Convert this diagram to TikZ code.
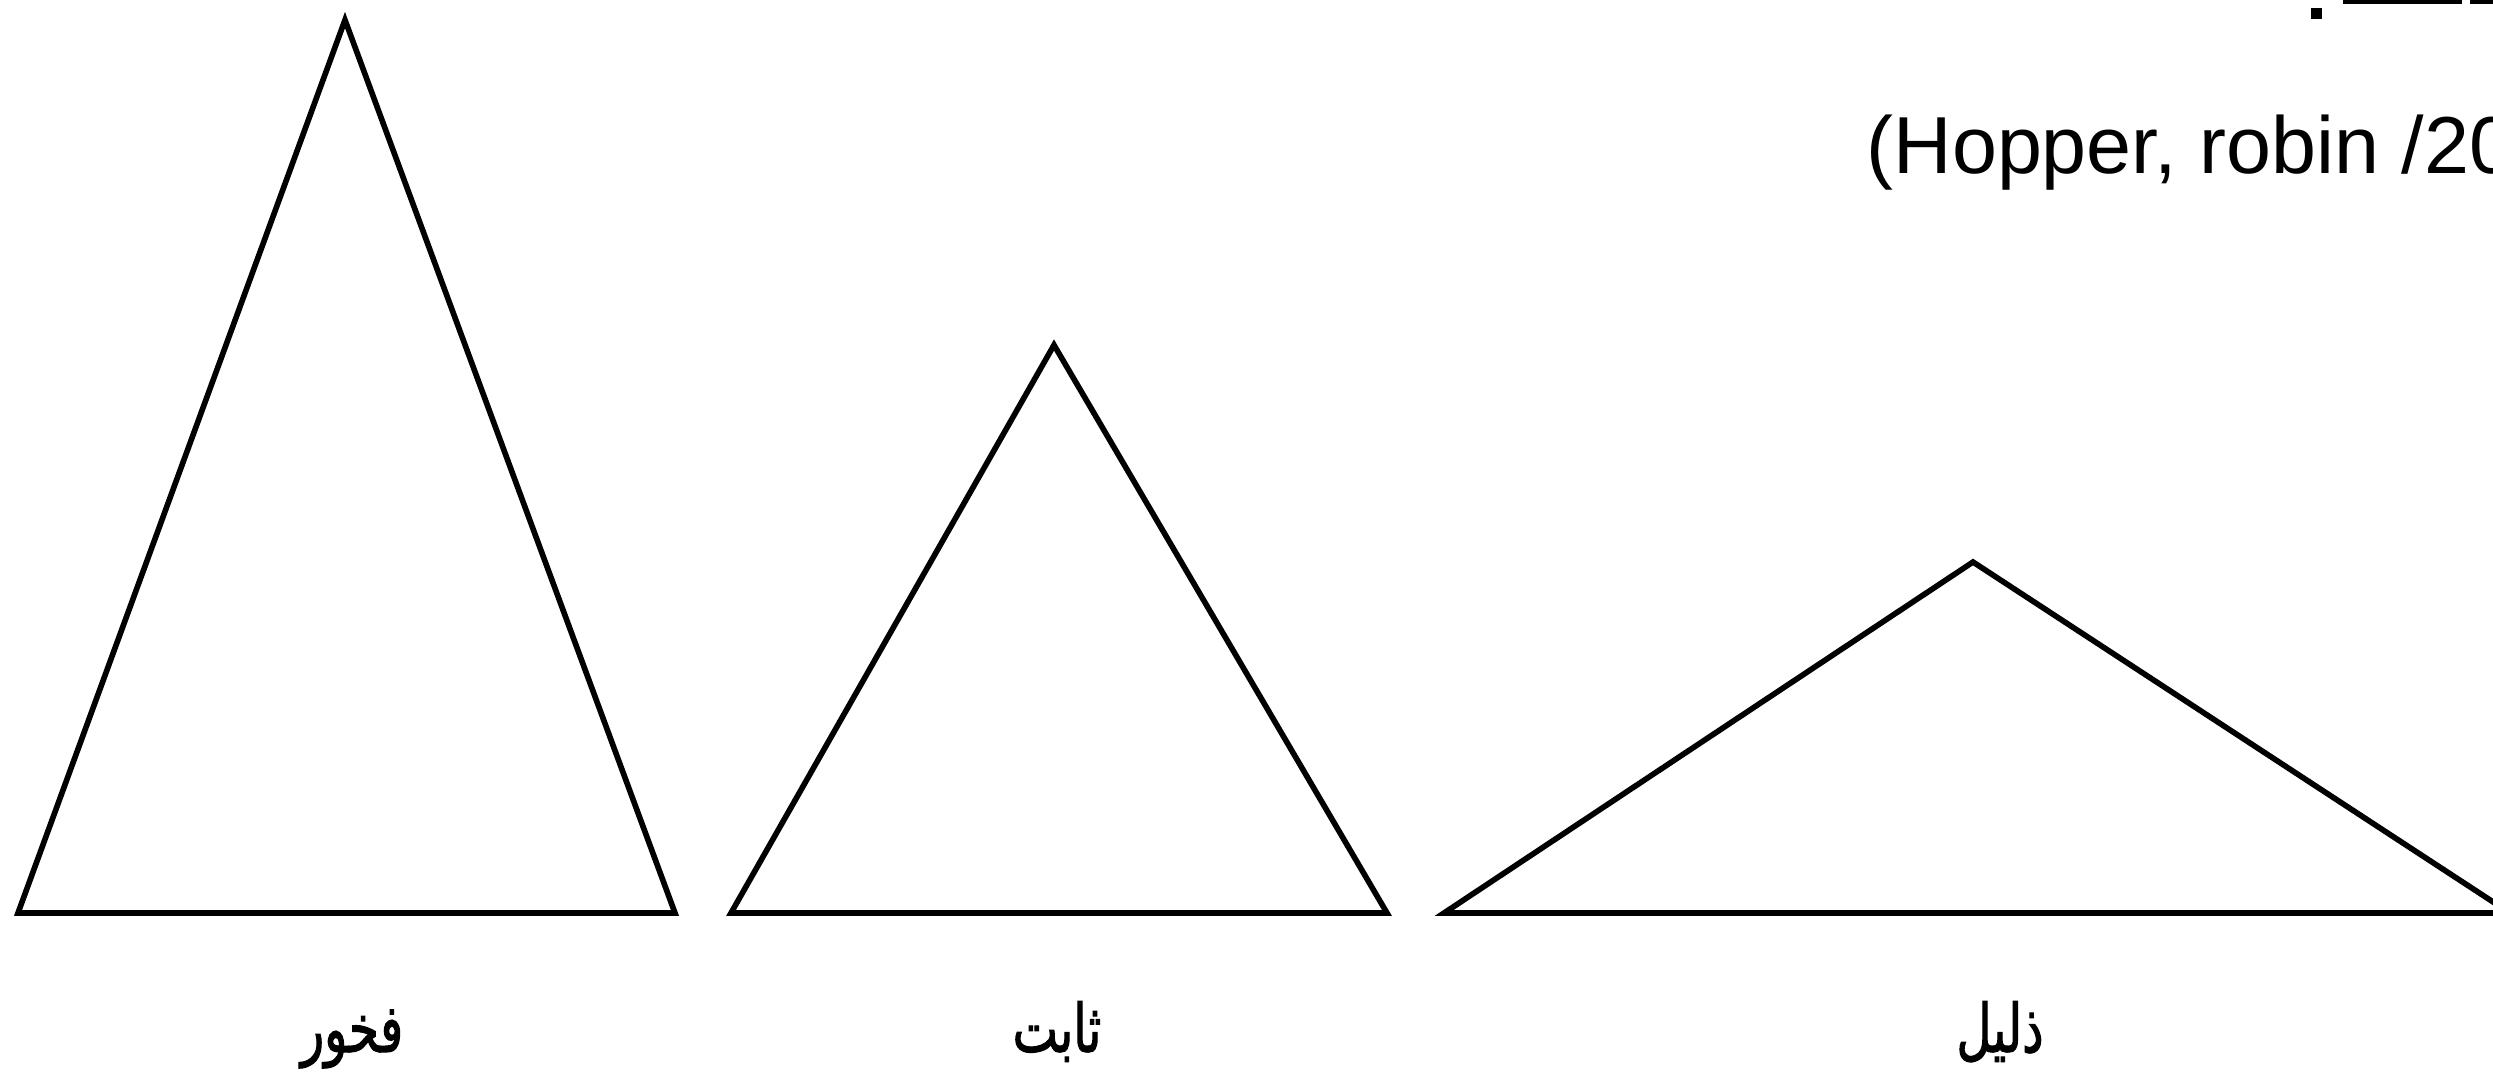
\documentclass[tikz,border=0pt]{standalone}
\usepackage{fontspec}
\setmainfont{Liberation Sans}
\newfontfamily\arabicfont[Script=Arabic,FakeStretch=0.72,FakeBold=1.5]{DejaVu Sans}
\TeXXeTstate=1
\begin{document}
\begin{tikzpicture}[x=0.01cm,y=-0.01cm,
  tri/.style={draw=black,line width=1.6pt,line join=miter},
  lbl/.style={anchor=base,inner sep=0pt,font=\arabicfont\fontsize{19pt}{21pt}\selectfont},
  cite/.style={anchor=base west,inner sep=0pt,font=\fontsize{23pt}{26pt}\selectfont}]
\useasboundingbox (0,0) rectangle (2493,1081);
\begin{scope}
\clip (0,0) rectangle (2493,1081);
% triangle 1
\coordinate (a1) at (345,20);
\coordinate (b1) at (18,913);
\coordinate (c1) at (675,913);
% triangle 2
\coordinate (a2) at (1054,345);
\coordinate (b2) at (731,913);
\coordinate (c2) at (1387,913);
% triangle 3
\coordinate (a3) at (1973,562);
\coordinate (b3) at (1444,913);
\coordinate (c3) at (2510,913);
\draw[tri] (a1) -- (b1) -- (c1) -- cycle;
\draw[tri] (a2) -- (b2) -- (c2) -- cycle;
\draw[tri] (a3) -- (b3) -- (c3) -- cycle;
% labels
\node[lbl] (l1) at (352,1052) {\beginR فخور\endR};
\node[lbl] (l2) at (1057,1052) {\beginR ثابت\endR};
\node[lbl] (l3) at (2000,1052) {\beginR ذليل\endR};
% citation
\node[cite] (cit) at (1866,173) {(Hopper, robin /2010)};
% remnants of a cut-off line at the top
\fill[black] (2311,8) rectangle (2322,19);
\coordinate (u1) at (2343,1);
\coordinate (u2) at (2462,1);
\coordinate (u3) at (2470,1);
\coordinate (u4) at (2493,1);
\draw[line width=1.6pt] (u1) -- (u2);
\draw[line width=1.6pt] (u3) -- (u4);
\end{scope}
\end{tikzpicture}
\end{document}
